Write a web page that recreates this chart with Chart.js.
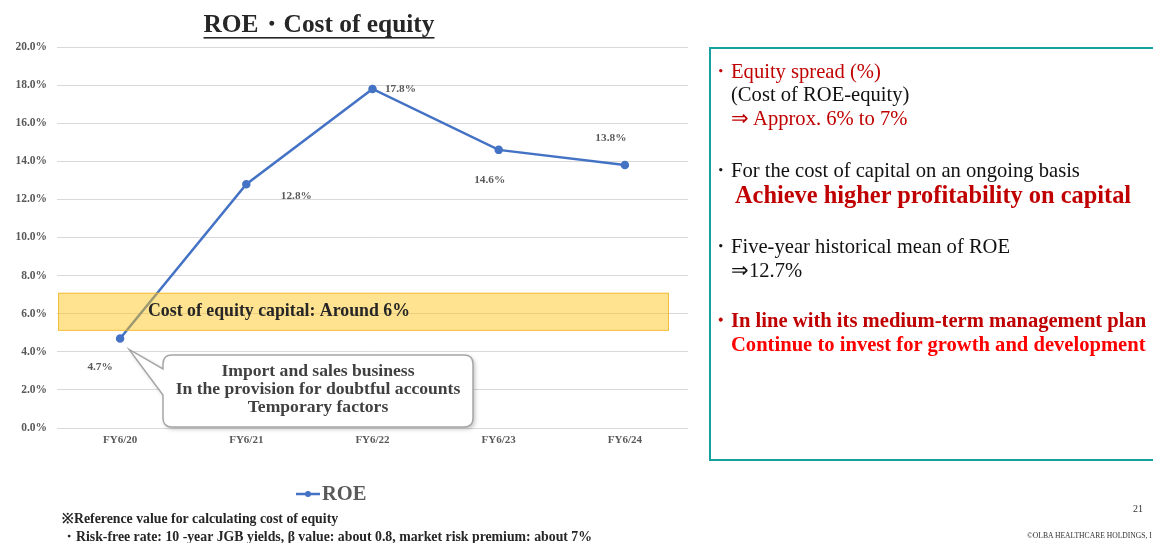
<!DOCTYPE html>
<html>
<head>
<meta charset="utf-8">
<script src="https://cdn.jsdelivr.net/npm/chart.js@4"></script>
<style>
  html,body{margin:0;padding:0;background:#fff;}
  #wrap{position:relative;width:1153px;height:543px;overflow:hidden;}
  #c{position:absolute;left:0;top:0;}
  .panel{position:absolute;left:709px;top:47px;width:470px;height:410px;border:2px solid #17A19E;box-sizing:content-box;}
  .t{position:absolute;white-space:nowrap;font-family:"Liberation Serif","Times New Roman",serif;font-size:20.6px;line-height:22px;color:#111;}
  .r{color:#C00000;}
  .rb{color:#C00000;font-weight:bold;}
  .rr{color:#FF0000;font-weight:bold;}
</style>
</head>
<body>
<div id="wrap">
<canvas id="c" width="1153" height="543"></canvas>
<div class="panel"></div>
<div class="t r" style="left:710px;top:60px;">・Equity spread (%)</div>
<div class="t" style="left:731px;top:83px;">(Cost of ROE-equity)</div>
<div class="t r" style="left:731px;top:107px;">⇒ Approx. 6% to 7%</div>
<div class="t" style="left:710px;top:159px;">・For the cost of capital on an ongoing basis</div>
<div class="t rb" style="left:735px;top:182px;font-size:24.4px;line-height:26px;">Achieve higher profitability on capital</div>
<div class="t" style="left:710px;top:235px;">・Five-year historical mean of ROE</div>
<div class="t" style="left:731px;top:259px;">⇒12.7%</div>
<div class="t rb" style="left:710px;top:309px;">・In line with its medium-term management plan</div>
<div class="t rr" style="left:731px;top:333px;">Continue to invest for growth and development</div>
<div class="t" style="left:1133px;top:503px;font-size:10px;line-height:12px;color:#333;">21</div>
<div class="t" style="left:1027px;top:531px;font-size:7.6px;line-height:10px;color:#333;">©OLBA HEALTHCARE HOLDINGS, I</div>
</div>
<script>
const categories = ['FY6/20','FY6/21','FY6/22','FY6/23','FY6/24'];
const roeValues = [4.7, 12.8, 17.8, 14.6, 13.8];
const yTicks = [0, 2, 4, 6, 8, 10, 12, 14, 16, 18, 20];
const costBand = [5.1, 7.1];
const titleText = 'ROE・Cost of equity';
const bandText = 'Cost of equity capital: Around 6%';
const calloutLines = ['Import and sales business','In the provision for doubtful accounts','Temporary factors'];
const footnotes = ['※Reference value for calculating cost of equity','・Risk-free rate: 10 -year JGB yields, β value: about 0.8, market risk premium: about 7%'];

const SERIF = '"Liberation Serif","Times New Roman",serif';
const labelOffsets = [[-20,29],[50,12],[28,0],[-9,30],[-14,-27]];

const decor = {
  id:'decor',
  afterDatasetsDraw(chart){
    const ctx = chart.ctx, y = chart.scales.y, ca = chart.chartArea;
    const yt = y.getPixelForValue(costBand[1]), yb = y.getPixelForValue(costBand[0]);
    ctx.save();
    ctx.fillStyle = 'rgba(255,196,20,0.47)';
    ctx.fillRect(ca.left+1, yt, ca.right-19-(ca.left+1), yb-yt);
    ctx.strokeStyle = 'rgba(240,180,40,0.8)';
    ctx.lineWidth = 1;
    ctx.strokeRect(ca.left+1.5, yt+0.5, ca.right-19-(ca.left+2), yb-yt-1);
    ctx.fillStyle = '#262626';
    ctx.font = 'bold 17.8px '+SERIF;
    ctx.textBaseline = 'middle';
    ctx.textAlign = 'left';
    ctx.fillText(bandText, 148, (yt+yb)/2);
    // data labels
    const meta = chart.getDatasetMeta(0);
    ctx.font = 'bold 11.3px '+SERIF;
    ctx.fillStyle = '#595959';
    ctx.textAlign = 'center';
    meta.data.forEach((p,i)=>{
      const o = labelOffsets[i];
      ctx.fillText(roeValues[i].toFixed(1)+'%', p.x+o[0], p.y+o[1]);
    });
    // callout
    const p0 = meta.data[0];
    const bx=163, by=355, bw=310, bh=72, r=9;
    const tipX = p0.x+9, tipY = p0.y+11;
    ctx.shadowColor = 'rgba(0,0,0,0.25)';
    ctx.shadowBlur = 4; ctx.shadowOffsetX = 2; ctx.shadowOffsetY = 2;
    ctx.beginPath();
    ctx.moveTo(bx+r, by);
    ctx.lineTo(bx+bw-r, by); ctx.quadraticCurveTo(bx+bw, by, bx+bw, by+r);
    ctx.lineTo(bx+bw, by+bh-r); ctx.quadraticCurveTo(bx+bw, by+bh, bx+bw-r, by+bh);
    ctx.lineTo(bx+r, by+bh); ctx.quadraticCurveTo(bx, by+bh, bx, by+bh-r);
    ctx.lineTo(bx, by+40);
    ctx.lineTo(tipX, tipY);
    ctx.lineTo(bx, by+14);
    ctx.lineTo(bx, by+r); ctx.quadraticCurveTo(bx, by, bx+r, by);
    ctx.closePath();
    ctx.fillStyle = '#fff';
    ctx.fill();
    ctx.shadowColor = 'transparent';
    ctx.strokeStyle = '#a6a6a6';
    ctx.lineWidth = 1.5;
    ctx.stroke();
    ctx.fillStyle = '#404040';
    ctx.font = 'bold 17.6px '+SERIF;
    ctx.textAlign = 'center';
    calloutLines.forEach((s,i)=>ctx.fillText(s, 318, 371+i*18));
    // title
    ctx.fillStyle = '#262626';
    ctx.font = 'bold 25.4px '+SERIF;
    ctx.textAlign = 'center';
    ctx.fillText(titleText, 319, 25);
    const tw = ctx.measureText(titleText).width;
    ctx.fillRect(319-tw/2, 37, tw, 1.6);
    // legend
    ctx.strokeStyle = '#4472C4'; ctx.lineWidth = 2.5;
    ctx.beginPath(); ctx.moveTo(296,494); ctx.lineTo(320,494); ctx.stroke();
    ctx.fillStyle = '#4472C4';
    ctx.beginPath(); ctx.arc(308,494,3,0,Math.PI*2); ctx.fill();
    ctx.fillStyle = '#595959';
    ctx.font = 'bold 20.5px '+SERIF;
    ctx.textAlign = 'left';
    ctx.fillText('ROE', 322, 495);
    // footnotes
    ctx.fillStyle = '#262626';
    ctx.font = 'bold 13.8px '+SERIF;
    footnotes.forEach((s,i)=>ctx.fillText(s, 62, 519+i*18));
    ctx.restore();
  }
};

new Chart(document.getElementById('c'), {
  type:'line',
  data:{labels:categories, datasets:[{
    label:'ROE', data:roeValues, borderColor:'#4472C4', backgroundColor:'#4472C4',
    borderWidth:2.5, pointRadius:3, pointHoverRadius:3, tension:0
  }]},
  options:{
    responsive:false, animation:false,
    layout:{padding:{left:0,right:465,top:47,bottom:90}},
    plugins:{legend:{display:false}, tooltip:{enabled:false}},
    scales:{
      x:{
        offset:true,
        grid:{display:false, drawTicks:false},
        border:{display:false},
        ticks:{font:{family:SERIF,size:11,weight:'bold'},color:'#595959',padding:6,maxRotation:0},
        afterFit(s){s.height=25;}
      },
      y:{
        min:0,max:20,
        afterBuildTicks(s){s.ticks = yTicks.map(v=>({value:v}));},
        grid:{color:'#d9d9d9',drawTicks:false},
        border:{display:false},
        ticks:{font:{family:SERIF,size:11.5,weight:'bold'},color:'#595959',padding:10,callback:v=>v.toFixed(1)+'%'},
        afterFit(s){s.width=57;}
      }
    }
  },
  plugins:[decor]
});
</script>
</body>
</html>
